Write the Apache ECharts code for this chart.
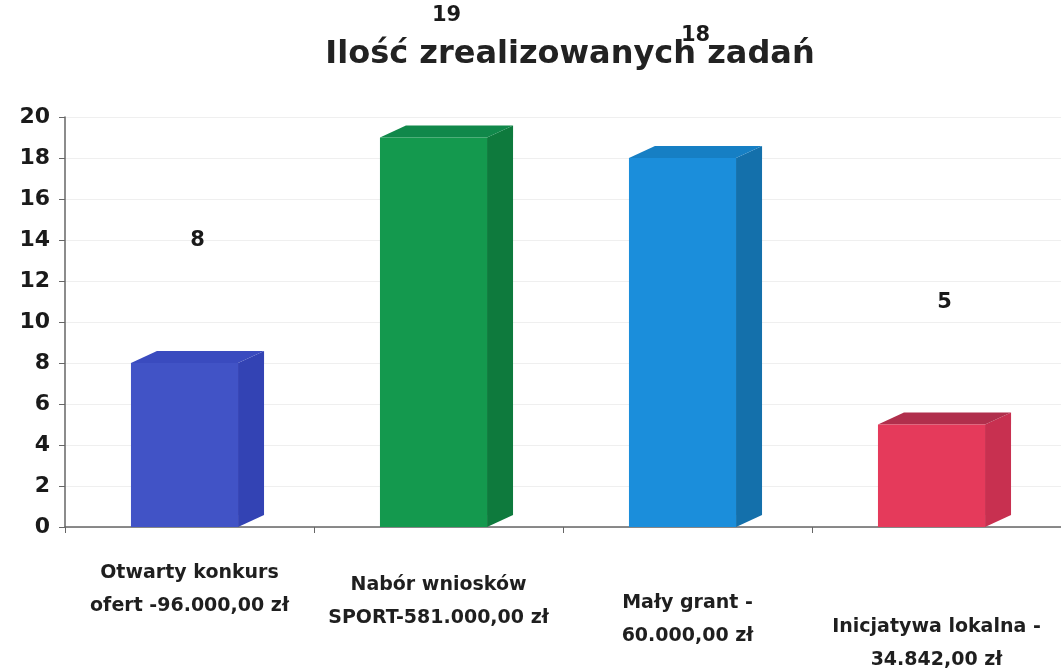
<!DOCTYPE html>
<html>
<head>
<meta charset="utf-8">
<script src="https://cdn.jsdelivr.net/npm/echarts@6/dist/echarts.min.js"></script>
<style>
  html, body { margin: 0; padding: 0; background: #fff; }
  #chart { width: 1061px; height: 671px; }
</style>
</head>
<body>
<div id="chart"></div>
<script>
// Task categories (with budgets) and number of completed tasks
const categories = [
  'Otwarty konkurs\nofert -96.000,00 zł',
  'Nabór wniosków\nSPORT-581.000,00 zł',
  'Mały grant -\n60.000,00 zł',
  'Inicjatywa lokalna -\n34.842,00 zł'
];
const taskCounts = [8, 19, 18, 5];
const yTicks = { min: 0, max: 20, interval: 2 };

// Box colours: front, side, top
const faceColors = [
  ['#4153c6', '#3343b4', '#3a4bbf'],
  ['#14994e', '#0e7a3d', '#10884a'],
  ['#1b8edb', '#1470ab', '#167fc4'],
  ['#e53a5b', '#c83050', '#b02f4c']
];

const FONT = '"DejaVu Sans", sans-serif';
const chart = echarts.init(document.getElementById('chart'));

const DEPTH_X = 26, DEPTH_Y = 12, LABEL_GAP = 122;

function renderBox(params, api) {
  const idx = api.value(0);
  const val = api.value(1);
  const base = api.coord([idx, 0]);
  const top = api.coord([idx, val]);
  const slot = api.size([1, 0])[0];
  const w = slot * 0.43;
  const x0 = base[0] - w / 2 - DEPTH_X / 2 + 8;
  const x1 = x0 + w;
  const c = faceColors[idx];
  return {
    type: 'group',
    children: [
      { // side face
        type: 'polygon',
        shape: { points: [[x1, top[1]], [x1 + DEPTH_X, top[1] - DEPTH_Y], [x1 + DEPTH_X, base[1] - DEPTH_Y], [x1, base[1]]] },
        style: { fill: c[1] }
      },
      { // top face
        type: 'polygon',
        shape: { points: [[x0, top[1]], [x0 + DEPTH_X, top[1] - DEPTH_Y], [x1 + DEPTH_X, top[1] - DEPTH_Y], [x1, top[1]]] },
        style: { fill: c[2] }
      },
      { // front face
        type: 'rect',
        shape: { x: x0, y: top[1], width: w, height: base[1] - top[1] },
        style: { fill: c[0] }
      },
      { // value label
        type: 'text',
        x: (x0 + x1 + DEPTH_X) / 2,
        y: top[1] - LABEL_GAP,
        style: {
          text: String(val),
          fill: '#1a1a1a',
          font: 'bold 21px ' + FONT,
          align: 'center',
          verticalAlign: 'middle'
        }
      }
    ]
  };
}

// Category labels step down slightly from left to right
const labelDrop = [0, 12, 30, 54];
const richStyles = { t: { fontSize: 19, fontWeight: 'bold', color: '#1f1f1f', lineHeight: 33, fontFamily: FONT } };
labelDrop.forEach((d, i) => { richStyles['s' + i] = { height: d, lineHeight: d, fontSize: 1 }; });

chart.setOption({
  animation: false,
  backgroundColor: '#ffffff',
  title: {
    text: 'Ilość zrealizowanych zadań',
    left: 565,
    top: 34,
    textAlign: 'center',
    textStyle: { fontSize: 32, fontWeight: 'bold', color: '#222', fontFamily: FONT }
  },
  grid: { left: 65, right: 0, top: 117, bottom: 144, containLabel: false },
  xAxis: {
    type: 'category',
    data: categories,
    axisLine: { show: true, lineStyle: { color: '#666', width: 1.5 } },
    axisTick: { show: true, length: 6, lineStyle: { color: '#666' } },
    axisLabel: {
      margin: 30,
      interval: 0,
      formatter: (v, i) => '{s' + i + '|}\n' + v.split('\n').map(s => '{t|' + s + '}').join('\n'),
      rich: richStyles
    },
    splitLine: { show: false }
  },
  yAxis: {
    type: 'value',
    min: yTicks.min,
    max: yTicks.max,
    interval: yTicks.interval,
    axisLine: { show: true, lineStyle: { color: '#666', width: 1.5 } },
    axisTick: { show: true, inside: false, length: 6, lineStyle: { color: '#666' } },
    axisLabel: { fontSize: 22, fontWeight: 'bold', color: '#1a1a1a', margin: 15, fontFamily: FONT },
    splitLine: { show: true, lineStyle: { color: '#efefef', width: 1 } }
  },
  series: [{
    type: 'custom',
    renderItem: renderBox,
    data: taskCounts.map((v, i) => [i, v]),
    encode: { x: 0, y: 1 },
    clip: false
  }]
});
</script>
</body>
</html>
